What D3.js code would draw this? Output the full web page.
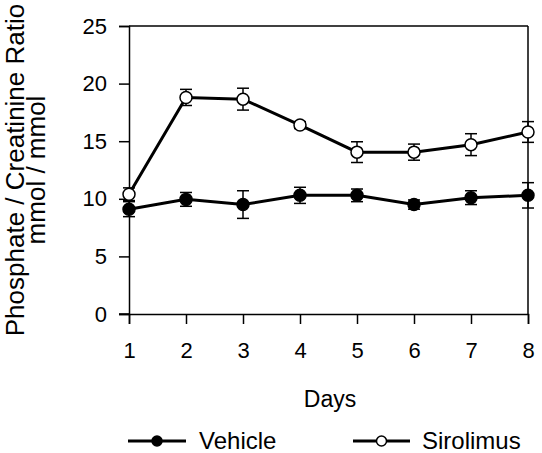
<!DOCTYPE html>
<html><head><meta charset="utf-8">
<script src="https://cdn.jsdelivr.net/npm/d3@7"></script>
<style>body{margin:0;background:#fff}svg{display:block}text{font-family:"Liberation Sans",Arial,sans-serif;fill:#000}</style>
</head><body>
<script>
const days = [1,2,3,4,5,6,7,8];
const vehicleMean = [9.1, 9.95, 9.5, 10.3, 10.3, 9.5, 10.1, 10.3];
const vehicleErr  = [0.65, 0.6, 1.2, 0.7, 0.55, 0.4, 0.6, 1.1];
const sirolimusMean = [10.4, 18.8, 18.65, 16.4, 14.05, 14.05, 14.7, 15.8];
const sirolimusErr  = [0.55, 0.7, 0.95, 0.3, 0.9, 0.7, 0.95, 0.9];
const yTicks = [0,5,10,15,20,25];
const seriesNames = ["Vehicle","Sirolimus"];

const W=542,H=453;
const svg=d3.select("body").append("svg").attr("width",W).attr("height",H);
const x=d3.scaleLinear().domain([1,8]).range([129,528]);
const y=d3.scaleLinear().domain([0,25]).range([314,26]);

// frame
svg.append("line").attr("x1",x(1)).attr("x2",x(8)).attr("y1",y(25)).attr("y2",y(25)).attr("stroke","#000").attr("stroke-width",1.5);
svg.append("line").attr("x1",x(8)).attr("x2",x(8)).attr("y1",y(25)).attr("y2",y(0)).attr("stroke","#000").attr("stroke-width",1.5);

const yAxis=svg.append("g").attr("transform",`translate(${x(1)},0)`)
  .call(d3.axisLeft(y).tickValues(yTicks).tickFormat(d3.format("d")).tickSize(10).tickPadding(12));
const xAxis=svg.append("g").attr("transform",`translate(0,${y(0)})`)
  .call(d3.axisBottom(x).tickValues(days).tickFormat(d3.format("d")).tickSize(10).tickPadding(18));
[yAxis,xAxis].forEach(g=>{
  g.select(".domain").attr("stroke","#000").attr("stroke-width",1.5);
  g.selectAll(".tick line").attr("stroke","#000").attr("stroke-width",1.5);
  g.selectAll(".tick text").attr("font-size",22).attr("font-family","Liberation Sans, Arial, sans-serif").attr("fill","#000");
});
svg.append("line").attr("x1",x(1)-10).attr("x2",x(1)).attr("y1",y(0)).attr("y2",y(0)).attr("stroke","#000").attr("stroke-width",1.5);

const series=[
  {name:seriesNames[0],mean:vehicleMean,err:vehicleErr,fill:"#000"},
  {name:seriesNames[1],mean:sirolimusMean,err:sirolimusErr,fill:"#fff"}
];
const line=d3.line().x((d,i)=>x(days[i])).y(d=>y(d));
series.forEach(s=>{
  const g=svg.append("g");
  g.append("path").attr("d",line(s.mean)).attr("fill","none").attr("stroke","#000").attr("stroke-width",3);
  const eb=g.selectAll(".eb").data(s.mean).enter().append("g");
  eb.append("line").attr("x1",(d,i)=>x(days[i])).attr("x2",(d,i)=>x(days[i]))
    .attr("y1",(d,i)=>y(d-s.err[i])).attr("y2",(d,i)=>y(d+s.err[i])).attr("stroke","#000").attr("stroke-width",1.5);
  [1,-1].forEach(sg=>{
    eb.append("line").attr("x1",(d,i)=>x(days[i])-6).attr("x2",(d,i)=>x(days[i])+6)
      .attr("y1",(d,i)=>y(d+sg*s.err[i])).attr("y2",(d,i)=>y(d+sg*s.err[i])).attr("stroke","#000").attr("stroke-width",1.5);
  });
  g.selectAll("circle").data(s.mean).enter().append("circle")
    .attr("cx",(d,i)=>x(days[i])).attr("cy",d=>y(d)).attr("r",6)
    .attr("fill",s.fill).attr("stroke","#000").attr("stroke-width",1.5);
});

// axis titles
svg.append("text").attr("x",330).attr("y",407).attr("text-anchor","middle").attr("font-size",23).text("Days");
const yl=svg.append("text").attr("transform","translate(24,170) rotate(-90)").attr("text-anchor","middle").attr("font-size",26);
yl.append("tspan").attr("x",0).attr("y",0).text("Phosphate / Creatinine Ratio");
yl.append("tspan").attr("x",0).attr("y",21).text("mmol / mmol");

// legend
const leg=[{x0:128,x1:186,tx:199},{x0:353,x1:410,tx:422}];
series.forEach((s,i)=>{
  const L=leg[i], ly=441;
  svg.append("line").attr("x1",L.x0).attr("x2",L.x1).attr("y1",ly).attr("y2",ly).attr("stroke","#000").attr("stroke-width",3);
  svg.append("circle").attr("cx",(L.x0+L.x1)/2).attr("cy",ly).attr("r",5).attr("fill",s.fill).attr("stroke","#000").attr("stroke-width",1.5);
  svg.append("text").attr("x",L.tx).attr("y",ly+8).attr("font-size",24).text(s.name);
});
</script>
</body></html>
